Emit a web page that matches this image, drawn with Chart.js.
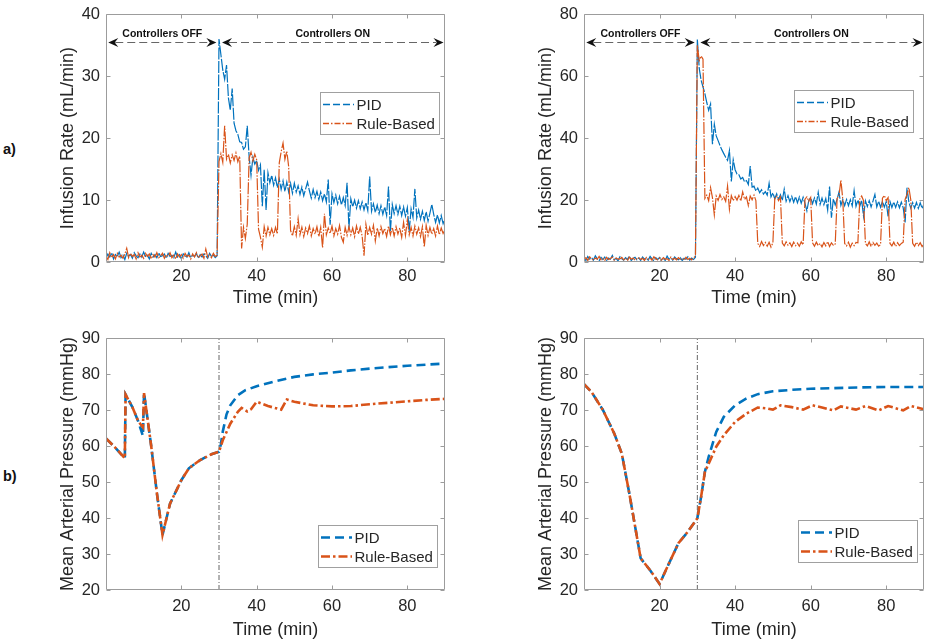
<!DOCTYPE html>
<html>
<head>
<meta charset="utf-8">
<title>Infusion rate and mean arterial pressure</title>
<script src="https://cdn.jsdelivr.net/npm/chart.js@4.4.1/dist/chart.umd.min.js"></script>
<style>
  html, body { margin: 0; padding: 0; background: #fff; }
  #fig { position: relative; width: 929px; height: 644px; overflow: hidden; background: #fff; }
  #fig canvas { position: absolute; }
  .panel-tag { position: absolute; font: bold 14.5px 'Liberation Sans', Arial, sans-serif; color: #111; }
</style>
</head>
<body>
<div id="fig">
  <canvas id="rateLeft" width="425" height="310" style="left:30px;top:0"></canvas>
  <canvas id="rateRight" width="421" height="310" style="left:508px;top:0"></canvas>
  <canvas id="mapLeft" width="425" height="334" style="left:30px;top:310px"></canvas>
  <canvas id="mapRight" width="421" height="334" style="left:508px;top:310px"></canvas>
  <div class="panel-tag" style="left:3px;top:141px">a)</div>
  <div class="panel-tag" style="left:3px;top:468px">b)</div>
</div>
<script>
// ── DATA ─────────────────────────────────────────

const X_TICKS = [20, 40, 60, 80];
const RATE_LEFT_TICKS = [0, 10, 20, 30, 40];
const RATE_RIGHT_TICKS = [0, 20, 40, 60, 80];
const MAP_TICKS = [20, 30, 40, 50, 60, 70, 80, 90];
const SERIES_NAMES = ['PID', 'Rule-Based'];
const SWITCH_TIME = 30;          // controllers switched on (min)
const SAMPLE_STEP = 0.5;        // min between infusion samples

// infusion rate, left experiment (mL/min), one value every 0.5 min from t = 0
const rateLeftPid = [
  0.6, 1.3, 0.8, 1.5, 0.5, 1.2, 0.9, 1.6, 0.7, 1.1,
  0.4, 1.4, 0.9, 1.2, 0.6, 1.5, 1.0, 0.7, 1.3, 0.8,
  1.6, 0.9, 1.1, 0.5, 1.4, 0.8, 1.2, 0.7, 1.5, 0.9,
  1.0, 1.3, 0.6, 1.4, 0.9, 1.1, 0.7, 1.6, 0.8, 1.2,
  0.5, 1.3, 1.0, 0.8, 1.5, 0.7, 1.1, 0.9, 1.4, 0.6,
  1.2, 0.8, 1.3, 1.0, 0.6, 1.4, 0.9, 1.1, 0.7, 1.0,
  36.0, 33.5, 31.0, 29.5, 31.8, 26.5, 24.5, 28.0, 22.4, 21.2,
  20.6, 19.4, 19.3, 18.2, 18.6, 22.0, 17.0, 14.0, 16.9, 15.8,
  16.4, 14.8, 15.7, 9.0, 14.9, 8.4, 14.4, 12.8, 14.0, 12.4,
  13.6, 12.0, 13.4, 11.7, 13.1, 11.4, 12.9, 11.3, 12.7, 11.1,
  12.7, 11.3, 12.3, 10.9, 12.1, 10.7, 11.8, 12.9, 11.5, 10.3,
  11.7, 10.4, 11.4, 10.1, 11.3, 9.9, 11.0, 9.7, 13.3, 6.0,
  11.0, 9.6, 10.8, 9.4, 10.6, 9.2, 10.4, 9.1, 12.8, 5.5,
  10.2, 8.9, 10.0, 8.7, 9.9, 8.6, 9.7, 8.4, 9.6, 8.3,
  13.8, 8.2, 9.4, 8.0, 9.2, 7.8, 9.1, 7.7, 8.9, 7.5,
  12.2, 5.0, 9.3, 7.8, 9.1, 7.7, 9.0, 7.5, 8.9, 7.4,
  8.8, 5.0, 8.6, 7.2, 11.8, 7.1, 8.4, 6.9, 8.2, 6.7,
  8.1, 6.6, 7.9, 9.3, 7.7, 6.4, 7.6, 6.3, 7.5, 6.2,
  7.0
];
const rateLeftRule = [
  0.9, 0.4, 1.5, 0.7, 1.2, 0.5, 1.4, 0.8, 1.1, 0.6,
  1.3, 2.2, 0.7, 1.4, 0.9, 1.2, 0.5, 1.5, 0.8, 1.1,
  0.6, 1.4, 0.9, 1.3, 0.5, 1.2, 0.8, 1.5, 0.7, 1.0,
  1.4, 0.6, 1.2, 0.9, 1.5, 0.7, 1.1, 0.5, 1.3, 0.8,
  1.2, 0.6, 1.4, 0.9, 1.1, 0.5, 1.3, 0.8, 1.5, 0.7,
  1.0, 1.3, 0.6, 2.1, 0.8, 1.2, 0.7, 1.4, 0.9, 1.1,
  16.2, 17.5, 16.1, 22.0, 16.6, 17.4, 16.0, 17.3, 16.4, 17.6,
  16.2, 17.1, 2.2, 5.6, 3.8, 6.1, 16.8, 17.7, 16.3, 17.4,
  16.5, 5.3, 4.0, 2.4, 5.7, 4.2, 5.6, 4.4, 5.4, 4.3,
  5.6, 4.5, 16.0, 17.8, 19.2, 16.6, 17.9, 15.4, 5.1, 4.2,
  5.7, 4.3, 7.0, 4.4, 5.6, 4.1, 5.5, 4.6, 5.8, 4.2,
  5.4, 4.5, 5.7, 4.1, 5.6, 2.3, 7.8, 4.4, 5.5, 4.6,
  5.8, 4.2, 5.4, 4.5, 5.9, 4.0, 3.2, 5.6, 4.3, 5.7,
  4.4, 5.5, 4.1, 5.8, 4.5, 5.6, 4.2, 1.0, 6.1, 4.3,
  5.6, 4.5, 5.9, 3.4, 5.5, 4.2, 5.7, 4.6, 5.4, 4.1,
  5.8, 4.4, 5.6, 4.2, 5.7, 4.5, 5.5, 4.0, 6.4, 4.3,
  6.8, 4.4, 5.6, 4.2, 5.8, 4.5, 5.5, 4.1, 5.7, 2.4,
  5.9, 4.3, 5.6, 4.5, 5.4, 4.2, 5.8, 4.4, 5.5, 4.6,
  5.2
];

// infusion rate, right experiment (mL/min), same sampling
const rateRightPid = [
  1.2, 0.5, 1.8, 0.9, 1.4, 0.6, 2.0, 1.0, 0.4, 1.5,
  0.8, 1.6, 0.5, 1.3, 0.9, 2.1, 0.7, 1.2, 0.4, 1.7,
  1.0, 0.6, 1.4, 0.8, 1.9, 0.5, 1.1, 1.5, 0.7, 1.3,
  0.5, 1.6, 0.9, 1.2, 0.6, 1.8, 1.0, 0.4, 1.4, 0.8,
  1.5, 0.7, 1.1, 0.5, 1.9, 0.9, 1.3, 0.6, 1.6, 1.0,
  0.7, 1.4, 0.5, 1.2, 0.9, 1.7, 0.6, 1.3, 0.8, 1.5,
  72.0, 62.5, 58.7, 56.5, 54.4, 51.5, 49.0, 51.0, 38.0, 44.5,
  40.7, 39.2, 37.6, 36.2, 35.0, 33.8, 32.8, 36.0, 26.0, 33.0,
  29.8, 28.4, 28.2, 26.8, 27.3, 25.9, 26.3, 25.0, 31.0, 24.2,
  24.5, 22.9, 23.9, 22.4, 23.3, 21.9, 22.7, 21.6, 25.4, 21.0,
  22.3, 20.4, 22.0, 20.2, 21.7, 19.9, 23.5, 19.6, 21.4, 19.5,
  21.2, 19.3, 21.1, 19.1, 21.0, 19.0, 20.9, 18.9, 16.5, 19.9,
  20.8, 18.8, 20.7, 18.7, 22.5, 18.6, 20.6, 18.5, 20.5, 16.8,
  24.4, 14.3, 20.4, 18.4, 20.3, 22.6, 18.3, 20.2, 18.2, 20.2,
  18.2, 20.1, 18.1, 23.0, 18.0, 20.0, 18.0, 19.9, 14.8, 19.8,
  17.9, 19.8, 17.8, 19.7, 21.8, 17.8, 19.6, 17.7, 19.6, 17.7,
  19.5, 14.6, 19.5, 17.6, 19.4, 17.6, 19.4, 17.5, 19.3, 17.5,
  12.8, 24.0, 19.3, 17.4, 19.2, 17.4, 19.2, 17.3, 19.1, 17.3,
  18.7
];
const rateRightRule = [
  0.8, 1.4, 0.5, 1.7, 1.0, 0.6, 1.3, 0.9, 1.8, 0.7,
  1.2, 0.5, 1.5, 0.8, 1.1, 1.6, 0.6, 1.3, 0.9, 1.0,
  1.5, 0.7, 1.2, 0.4, 1.6, 0.9, 1.3, 0.6, 1.1, 1.4,
  0.8, 1.2, 0.5, 1.5, 0.9, 1.3, 0.6, 1.7, 1.0, 0.7,
  1.3, 0.6, 1.4, 0.9, 1.1, 0.5, 1.6, 0.8, 1.2, 0.7,
  1.4, 0.9, 1.1, 0.6, 1.5, 0.8, 1.2, 0.7, 1.3, 1.9,
  70.0, 65.0, 66.5, 65.5, 20.5, 21.6, 19.8, 24.0, 20.8, 15.2,
  21.3, 19.9, 21.8, 20.2, 21.0, 19.6, 24.5, 17.0, 21.4, 19.8,
  21.1, 20.0, 21.5, 19.7, 22.6, 20.2, 21.0, 18.2, 21.3, 20.1,
  21.6, 19.8, 6.0, 5.0, 6.6, 5.3, 6.3, 5.1, 6.4, 4.8,
  6.2, 20.5, 21.2, 19.8, 21.0, 6.1, 5.2, 6.5, 5.4, 6.2,
  5.0, 6.4, 5.3, 6.1, 5.1, 6.5, 5.5, 20.3, 21.0, 19.6,
  20.8, 6.2, 5.1, 6.4, 5.3, 6.0, 4.9, 6.3, 5.2, 6.6,
  5.0, 6.2, 5.4, 5.8, 20.5, 21.5, 26.5, 20.2, 6.0, 5.2,
  6.4, 4.8, 6.1, 5.3, 6.3, 6.2, 20.4, 21.3, 19.8, 6.0,
  5.2, 6.5, 5.0, 6.3, 5.4, 6.1, 5.1, 5.6, 20.6, 21.5,
  19.9, 20.8, 6.0, 5.2, 6.4, 5.0, 6.2, 5.3, 6.0, 6.4,
  20.2, 21.8, 24.0, 20.1, 6.0, 5.1, 6.4, 5.3, 6.2, 5.0,
  5.8
];

// mean arterial pressure, left experiment (mmHg)
const mapLeftPidTime = [0, 2.5, 5, 5.2, 7, 8.5, 9.8, 10.1, 12, 13.5, 15, 17, 20, 22, 25, 28, 30, 30.5, 31, 32,
  33, 35, 37, 40, 45, 50, 55, 60, 65, 70, 75, 80, 85, 90];
const mapLeftPid = [62.1, 59.5, 56.6, 74.3, 70.8, 67.0, 62.8, 74.7, 60.0, 47.0, 35.3, 44.0, 50.5, 53.8, 56.1, 57.7, 58.4, 60.5, 64.0, 68.8,
  71.3, 74.1, 75.5, 76.6, 78.0, 79.2, 79.9, 80.4, 81.0, 81.5, 81.9, 82.3, 82.6, 82.9];
const mapLeftRuleTime = [0, 2.5, 5, 5.2, 7, 8.5, 9.8, 10.1, 12, 13.5, 15, 17, 20, 22, 25, 28, 30, 31, 33, 35,
  36, 37.5, 38.5, 40, 43, 46.5, 48, 50, 55, 60, 65, 70, 75, 80, 85, 90];
const mapLeftRule = [62.1, 59.5, 56.6, 74.3, 70.8, 67.0, 65.2, 74.7, 60.0, 47.0, 35.3, 44.0, 50.5, 53.8, 56.1, 57.7, 58.4, 61.6, 66.2, 69.5,
  70.6, 69.6, 70.2, 72.3, 71.1, 70.1, 72.9, 72.3, 71.3, 71.0, 71.1, 71.6, 72.0, 72.4, 72.8, 73.1];

// mean arterial pressure, right experiment (mmHg)
const mapRightPidTime = [0, 2, 5, 8, 10, 12, 15, 17.5, 20, 22.5, 25, 27.5, 30, 31, 32,
  33, 35, 37, 40, 43, 46, 50, 55, 60, 70, 80, 90];
const mapRightPid = [77.2, 75.0, 70.0, 63.5, 57.9, 46.8, 28.8, 25.5, 21.7, 27.4, 33.0, 36.2, 39.9, 45.9, 52.8,
  57.0, 63.9, 68.1, 71.3, 73.2, 74.4, 75.2, 75.6, 75.9, 76.2, 76.4, 76.4];
const mapRightRuleTime = [0, 2, 5, 8, 10, 12, 15, 17.5, 20, 22.5, 25, 27.5, 30, 31, 32,
  33, 35, 37, 40, 43, 46, 48, 50, 52, 55, 58, 60.5, 63, 66, 68, 72, 74.5, 78, 80.5, 84.5, 86.5, 90];
const mapRightRule = [77.2, 75.0, 70.0, 63.5, 57.9, 46.8, 28.8, 25.5, 21.7, 27.4, 33.0, 36.2, 39.9, 45.9, 52.8,
  55.1, 59.8, 63.0, 66.7, 69.0, 70.7, 70.5, 70.1, 71.3, 70.8, 70.1, 71.3, 70.7, 69.9, 71.0, 70.1, 71.1, 69.9, 71.1, 69.9, 71.1, 70.2];


// ── STYLE ────────────────────────────────────────

const FONT = "'Liberation Sans', Arial, Helvetica, sans-serif";
const INK = '#262626';
const BLUE = '#0072BD';
const ORANGE = '#D95319';

const sampled = vals => vals.map((v, i) => ({ x: i * SAMPLE_STEP, y: v }));
const paired = (ts, vs) => ts.map((t, i) => ({ x: t, y: vs[i] }));


// ── PLUGINS ──────────────────────────────────────

// MATLAB style box with inward ticks on all four sides
const matlabAxes = {
  id: 'matlabAxes',
  afterDatasetsDraw(chart) {
    const { ctx, chartArea: a, scales: { x, y } } = chart;
    const L = Math.round(a.left) + 0.5, R = Math.round(a.right) - 0.5;
    const T = Math.round(a.top) + 0.5, B = Math.round(a.bottom) - 0.5;
    ctx.save();
    ctx.strokeStyle = '#9c9c9c';
    ctx.lineWidth = 1;
    ctx.beginPath();
    ctx.rect(L, T, R - L, B - T);
    x.ticks.forEach(t => {
      const px = Math.round(x.getPixelForValue(t.value)) + 0.5;
      ctx.moveTo(px, B); ctx.lineTo(px, B - 4);
      ctx.moveTo(px, T); ctx.lineTo(px, T + 4);
    });
    y.ticks.forEach(t => {
      const py = Math.round(y.getPixelForValue(t.value)) + 0.5;
      ctx.moveTo(L, py); ctx.lineTo(L + 4, py);
      ctx.moveTo(R, py); ctx.lineTo(R - 4, py);
    });
    ctx.stroke();
    ctx.restore();
  }
};

function arrowHead(ctx, tipX, y, dir) {
  ctx.beginPath();
  ctx.moveTo(tipX, y);
  ctx.lineTo(tipX + dir * 10, y - 4.5);
  ctx.lineTo(tipX + dir * 6.5, y);
  ctx.lineTo(tipX + dir * 10, y + 4.5);
  ctx.closePath();
  ctx.fill();
}

// "Controllers OFF / ON" double arrows
const phaseArrows = {
  id: 'phaseArrows',
  afterDatasetsDraw(chart, args, opts) {
    if (!opts.spans) return;
    const { ctx, scales: { x, y } } = chart;
    const py = Math.round(y.getPixelForValue(opts.level)) + 0.5;
    ctx.save();
    opts.spans.forEach(s => {
      const x0 = x.getPixelForValue(s.from), x1 = x.getPixelForValue(s.to);
      ctx.strokeStyle = '#666';
      ctx.lineWidth = 1;
      ctx.setLineDash([8, 4]);
      ctx.beginPath();
      ctx.moveTo(x0 + 7, py);
      ctx.lineTo(x1 - 7, py);
      ctx.stroke();
      ctx.setLineDash([]);
      ctx.fillStyle = '#111';
      arrowHead(ctx, x0, py, 1);
      arrowHead(ctx, x1, py, -1);
      ctx.font = `bold 10.5px ${FONT}`;
      ctx.textAlign = 'center';
      ctx.textBaseline = 'middle';
      ctx.fillText(s.label, (x0 + x1) / 2, py - 8);
    });
    ctx.restore();
  }
};

// boxed legend inside the axes
const boxLegend = {
  id: 'boxLegend',
  afterDraw(chart, args, opts) {
    const { ctx, chartArea: a } = chart;
    const items = chart.data.datasets.filter(d => d.inLegend);
    const w = 119, h = 42;
    const left = Math.round(a.right - opts.right - w);
    const top = Math.round(opts.top != null ? a.top + opts.top : a.bottom - opts.bottom - h);
    ctx.save();
    ctx.fillStyle = '#fff';
    ctx.fillRect(left, top, w, h);
    ctx.strokeStyle = '#a0a0a0';
    ctx.lineWidth = 1;
    ctx.strokeRect(left + 0.5, top + 0.5, w, h);
    ctx.font = `15px ${FONT}`;
    ctx.textBaseline = 'middle';
    items.forEach((d, i) => {
      const cy = top + 12.5 + i * 19;
      ctx.strokeStyle = d.borderColor;
      ctx.lineWidth = opts.lineWidth || d.borderWidth;
      ctx.setLineDash(opts.dashes[i]);
      ctx.beginPath();
      ctx.moveTo(left + 3, cy);
      ctx.lineTo(left + 34, cy);
      ctx.stroke();
      ctx.setLineDash([]);
      ctx.fillStyle = INK;
      ctx.fillText(d.label, left + 36.5, cy + 1);
    });
    ctx.restore();
  }
};


// ── CHARTS ───────────────────────────────────────

function makePanel(canvasId, cfg) {
  const ctx = document.getElementById(canvasId);
  return new Chart(ctx, {
    type: 'line',
    data: { datasets: cfg.datasets },
    plugins: [matlabAxes, phaseArrows, boxLegend],
    options: {
      responsive: false,
      animation: false,
      events: [],
      layout: { padding: { left: 0, top: cfg.padTop, right: cfg.padRight, bottom: 0 } },
      elements: { point: { radius: 0 }, line: { tension: 0 } },
      plugins: {
        legend: { display: false },
        tooltip: { enabled: false },
        phaseArrows: cfg.arrows || {},
        boxLegend: cfg.legend
      },
      scales: {
        x: {
          type: 'linear', position: 'bottom', min: 0, max: 90,
          afterBuildTicks: s => { s.ticks = X_TICKS.map(v => ({ value: v })); },
          afterFit: s => { s.height = cfg.xHeight; },
          grid: { display: false, drawTicks: false },
          border: { display: false },
          ticks: { color: INK, padding: cfg.xTickPad, font: { family: FONT, size: 16.5, lineHeight: 1 } },
          title: {
            display: true, text: 'Time (min)', color: INK,
            font: { family: FONT, size: 18 },
            padding: { top: 0, bottom: cfg.xTitlePad }
          }
        },
        y: {
          type: 'linear', min: cfg.yTicks[0], max: cfg.yTicks[cfg.yTicks.length - 1],
          afterBuildTicks: s => { s.ticks = cfg.yTicks.map(v => ({ value: v })); },
          afterFit: s => { s.width = 76; },
          grid: { display: false, drawTicks: false },
          border: { display: false },
          ticks: { color: INK, padding: 6, font: { family: FONT, size: 16.5, lineHeight: 1 } },
          title: {
            display: true, text: cfg.yTitle, color: INK,
            font: { family: FONT, size: 18 },
            padding: { top: 27.7, bottom: 0 }
          }
        }
      }
    }
  });
}

// dense noisy recordings: long dashes so the band reads almost solid
function rateSets(pid, rule) {
  return [
    { label: SERIES_NAMES[0], data: sampled(pid), borderColor: BLUE, borderWidth: 1.2,
      borderDash: [12, 1.5], order: 1, inLegend: true },
    { label: SERIES_NAMES[1], data: sampled(rule), borderColor: ORANGE, borderWidth: 1.2,
      borderDash: [12, 1.5, 1.5, 1.5], order: 0, inLegend: true }
  ];
}

function mapSets(pidT, pid, ruleT, rule) {
  return [
    { label: SERIES_NAMES[0], data: paired(pidT, pid), borderColor: BLUE, borderWidth: 2.6,
      borderDash: [9, 5], order: 1, inLegend: true },
    { label: SERIES_NAMES[1], data: paired(ruleT, rule), borderColor: ORANGE, borderWidth: 2.6,
      borderDash: [9, 3, 2.5, 3], order: 0, inLegend: true },
    { label: 'switch', data: [{ x: SWITCH_TIME, y: MAP_TICKS[0] }, { x: SWITCH_TIME, y: MAP_TICKS[MAP_TICKS.length - 1] }],
      borderColor: '#666', borderWidth: 1, borderDash: [5, 2, 1, 2], order: 2 }
  ];
}

const rateLegend = { dashes: [[7, 3], [6, 2, 1.5, 2]], lineWidth: 1.3 };
const mapLegend = { dashes: [[9, 5], [9, 3, 2.5, 3]] };

makePanel('rateLeft', {
  datasets: rateSets(rateLeftPid, rateLeftRule),
  yTicks: RATE_LEFT_TICKS, yTitle: 'Infusion Rate (mL/min)',
  padTop: 9, padRight: 10, xHeight: 48, xTickPad: 6, xTitlePad: 1.2,
  legend: { ...rateLegend, right: 5.7, top: 77.7 },
  arrows: { level: 35.6, spans: [
    { from: 0.6, to: 29.3, label: 'Controllers OFF' },
    { from: 30.8, to: 89.6, label: 'Controllers ON' }
  ] }
});

makePanel('rateRight', {
  datasets: rateSets(rateRightPid, rateRightRule),
  yTicks: RATE_RIGHT_TICKS, yTitle: 'Infusion Rate (mL/min)',
  padTop: 9, padRight: 5, xHeight: 48, xTickPad: 6, xTitlePad: 1.2,
  legend: { ...rateLegend, right: 10.7, top: 75.3 },
  arrows: { level: 71.2, spans: [
    { from: 0.6, to: 29.3, label: 'Controllers OFF' },
    { from: 30.8, to: 89.6, label: 'Controllers ON' }
  ] }
});

makePanel('mapLeft', {
  datasets: mapSets(mapLeftPidTime, mapLeftPid, mapLeftRuleTime, mapLeftRule),
  yTicks: MAP_TICKS, yTitle: 'Mean Arterial Pressure (mmHg)',
  padTop: 28, padRight: 10, xHeight: 54, xTickPad: 8, xTitlePad: 3.2,
  legend: { ...mapLegend, right: 7.7, bottom: 23.3 }
});

makePanel('mapRight', {
  datasets: mapSets(mapRightPidTime, mapRightPid, mapRightRuleTime, mapRightRule),
  yTicks: MAP_TICKS, yTitle: 'Mean Arterial Pressure (mmHg)',
  padTop: 28, padRight: 5, xHeight: 54, xTickPad: 8, xTitlePad: 3.2,
  legend: { ...mapLegend, right: 7.3, bottom: 28.3 }
});
</script>
</body>
</html>
